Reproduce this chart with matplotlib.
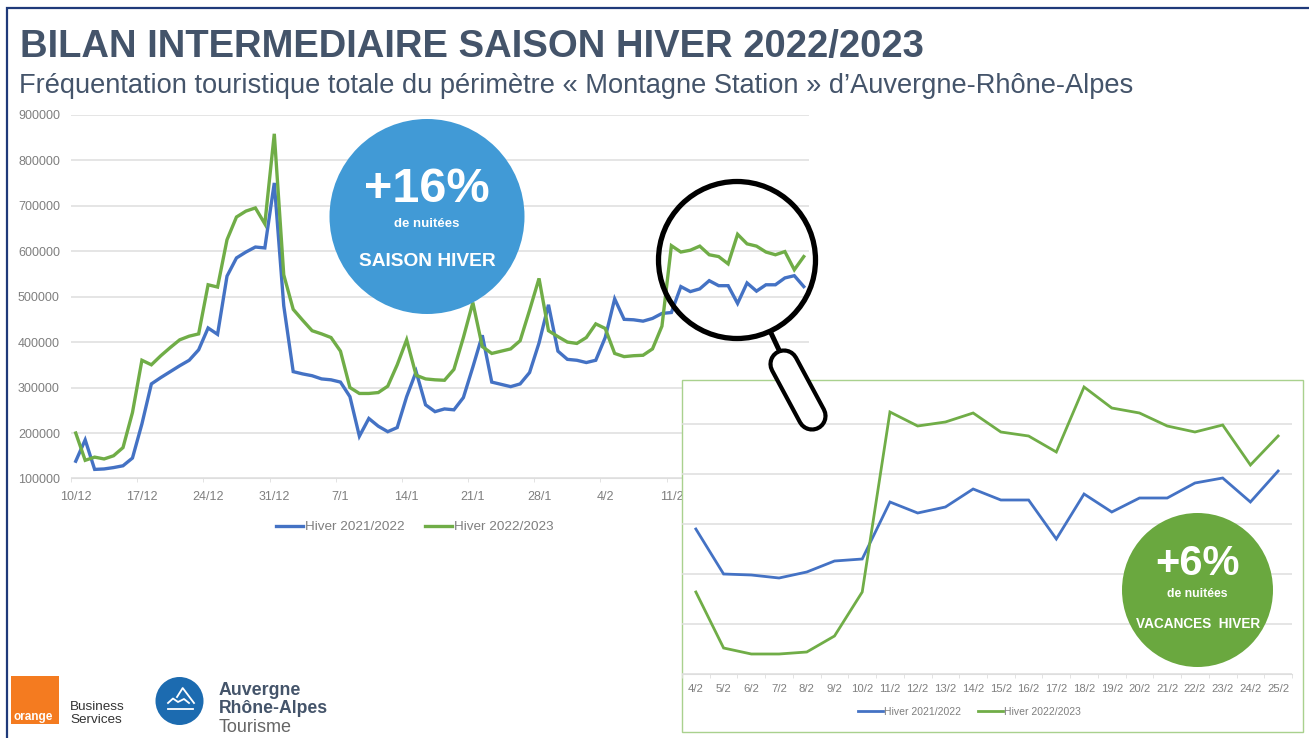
import matplotlib
matplotlib.use('Agg')
import matplotlib.pyplot as plt
from matplotlib.patches import Circle, Ellipse, Rectangle

plt.rcParams['font.family'] = ['Liberation Sans', 'DejaVu Sans']

W, H = 1309, 738

# main chart, one point per day from 10/12 to 25/2, in thousands of nights
week_labels = ['10/12', '17/12', '24/12', '31/12', '7/1', '14/1', '21/1', '28/1', '4/2', '11/2', '18/2', '25/2']
y_ticks = [100000, 200000, 300000, 400000, 500000, 600000, 700000, 800000, 900000]
hiver_2122 = [138, 185, 120, 121, 124, 128, 145, 220, 308, 322, 335, 348, 360, 383, 431, 417, 545, 585, 598, 609, 607, 750,
              480, 335, 330, 326, 319, 317, 312, 280, 193, 232, 215, 203, 212, 280, 335, 262, 247, 253, 251, 278, 345, 415,
              312, 307, 302, 308, 333, 398, 482, 380, 362, 360, 355, 360, 410,
              495, 450, 449, 446, 452, 463, 465, 522, 511, 517, 535, 524, 524, 485, 530, 512, 526, 526, 541, 546, 522]
hiver_2223 = [200, 140, 147, 143, 150, 168, 245, 360, 350, 370, 388, 405, 413, 418, 526, 521, 625, 675, 688, 695, 660, 858,
              548, 472, 448, 425, 418, 410, 380, 300, 287, 287, 289, 303, 350, 405, 327, 319, 317, 316, 340, 410, 487,
              390, 375, 380, 385, 403, 470, 540, 425, 412, 400, 397, 410, 440, 430,
              375, 368, 370, 371, 385, 435, 612, 598, 602, 611, 592, 588, 572, 637, 616, 611, 598, 592, 599, 559, 588]

# zoomed chart, vacances d'hiver
zoom_days = ['4/2', '5/2', '6/2', '7/2', '8/2', '9/2', '10/2', '11/2', '12/2', '13/2', '14/2',
             '15/2', '16/2', '17/2', '18/2', '19/2', '20/2', '21/2', '22/2', '23/2', '24/2', '25/2']
zoom_2122 = [495, 450, 449, 446, 452, 463, 465, 522, 511, 517, 535, 524, 524, 485, 530, 512, 526, 526, 541, 546, 522, 553]
zoom_2223 = [432, 376, 370, 370, 372, 388, 432, 612, 598, 602, 611, 592, 588, 572, 637, 616, 611, 598, 592, 599, 559, 588]
zoom_ticks = [350000, 400000, 450000, 500000, 550000, 600000]

BLUE = '#4472c4'
GREEN = '#70ad47'
GREY = '#7f7f7f'
SLATE = '#44546a'


def px_axes(fig, left, top, right, bottom, zorder):
    return fig.add_axes([left / W, 1 - bottom / H, (right - left) / W, (bottom - top) / H], zorder=zorder)


def draw_chart(ax, a, b, lw, label_size):
    x = range(len(a))
    ax.patch.set_alpha(0)
    ax.plot(x, [v * 1000 for v in a], color=BLUE, lw=lw, label='Hiver 2021/2022', solid_joinstyle='miter')
    ax.plot(x, [v * 1000 for v in b], color=GREEN, lw=lw, label='Hiver 2022/2023', solid_joinstyle='miter')
    ax.grid(axis='y', color='#dedede', lw=1.1)
    ax.set_axisbelow(True)
    for s in ['top', 'right', 'left']:
        ax.spines[s].set_visible(False)
    ax.spines['bottom'].set_color('#dedede')
    ax.tick_params(axis='y', length=0, colors=GREY, labelsize=label_size)
    ax.tick_params(axis='x', which='major', length=0, colors=GREY, labelsize=label_size)
    ax.tick_params(axis='x', which='minor', length=3, color='#dedede')
    ax.set_xlim(-0.5, len(a) - 0.5)


def chart_legend(ax, fig, cx, cy, size, handle, gap):
    ax.legend(loc='center', bbox_to_anchor=(cx / W, 1 - cy / H), bbox_transform=fig.transFigure, ncol=2,
              frameon=False, fontsize=size, labelcolor=GREY, handlelength=handle, handletextpad=0.15,
              columnspacing=gap, borderpad=0)


fig = plt.figure(figsize=(W / 100, H / 100), dpi=100, facecolor='white')

# main chart
ax = px_axes(fig, 71, 114.7, 808.5, 478.5, 1)
draw_chart(ax, hiver_2122, hiver_2223, 2.4, 9)
ax.set_ylim(100000, 900000)
ax.set_yticks(y_ticks)
ax.tick_params(axis='y', pad=8)
week_pos = range(0, len(hiver_2122), 7)
ax.set_xticks(list(week_pos))
ax.set_xticklabels(week_labels, clip_on=True)
ax.set_xticks([p - 0.5 for p in week_pos], minor=True)
ax.tick_params(axis='x', which='major', pad=9)
chart_legend(ax, fig, 415, 527, 9.7, 2.0, 1.5)

# white box behind the zoomed chart
box = px_axes(fig, 0, 0, W, H, 2)
box.set_xlim(0, W)
box.set_ylim(H, 0)
box.axis('off')
box.add_patch(Rectangle((682, 380), 621, 352, facecolor='white', edgecolor='#a9d18e', lw=1))

# zoomed chart
zoom = px_axes(fig, 682, 380, 1292, 674, 3)
draw_chart(zoom, zoom_2122, zoom_2223, 2.0, 8.2)
zoom.set_ylim(350000, 644000)
zoom.set_yticks(zoom_ticks)
zoom.set_yticklabels([])
zoom.set_xticks(range(len(zoom_days)))
zoom.set_xticklabels(zoom_days)
zoom.set_xticks([p - 0.5 for p in range(len(zoom_days) + 1)], minor=True)
zoom.tick_params(axis='x', which='major', pad=7)
chart_legend(zoom, fig, 969.5, 712, 7.5, 2.4, 1.6)

# everything on top, drawn in pixel coordinates
top = px_axes(fig, 0, 0, W, H, 4)
top.set_xlim(0, W)
top.set_ylim(H, 0)
top.axis('off')

top.plot([7, 7, W], [H, 8, 8], color='#1f3a7a', lw=1.6, solid_joinstyle='miter')
top.text(20, 47.5, 'BILAN INTERMEDIAIRE SAISON HIVER 2022/2023', fontsize=27.5, fontweight='bold',
         color=SLATE, ha='left', va='center')
top.text(19, 86, 'Fréquentation touristique totale du périmètre « Montagne Station » d’Auvergne-Rhône-Alpes',
         fontsize=19.6, color=SLATE, ha='left', va='center')

# blue bubble
top.add_patch(Circle((427, 216.5), 97.5, facecolor='#419ad6', edgecolor='none'))
top.text(427, 189, '+16%', fontsize=35, fontweight='bold', color='white', ha='center', va='center')
top.text(427, 224, 'de nuitées', fontsize=9.5, fontweight='bold', color='white', ha='center', va='center')
top.text(427, 262, 'SAISON HIVER', fontsize=13.8, fontweight='bold', color='white', ha='center', va='center')

# green bubble
top.add_patch(Ellipse((1197.5, 590), 151, 154, facecolor='#6aa83f', edgecolor='none'))
top.text(1197.5, 564, '+6%', fontsize=30, fontweight='bold', color='white', ha='center', va='center')
top.text(1197.5, 594, 'de nuitées', fontsize=8.8, fontweight='bold', color='white', ha='center', va='center')
top.text(1198, 623.5, 'VACANCES  HIVER', fontsize=9.8, fontweight='bold', color='white', ha='center', va='center')

# magnifying glass
top.add_patch(Circle((737, 260), 78.5, facecolor='none', edgecolor='black', lw=3.8))
top.plot([771, 779], [333, 350], color='black', lw=3.6, solid_capstyle='butt')
top.plot([784, 812], [364, 416], color='black', lw=22.5, solid_capstyle='round')
top.plot([784, 812], [364, 416], color='white', lw=16.5, solid_capstyle='round')

# logos
top.add_patch(Rectangle((11, 676), 48, 48, facecolor='#f47b20', edgecolor='none'))
top.text(14, 717, 'orange', fontsize=8.5, fontweight='bold', color='white', ha='left', va='center')
top.text(70, 707.5, 'Business', fontsize=9.7, color='#333333', ha='left', va='center')
top.text(70, 720, 'Services', fontsize=9.7, color='#333333', ha='left', va='center')
top.add_patch(Circle((179.5, 701), 24, facecolor='#1c6bb0', edgecolor='none'))
top.plot([177, 182.7, 194], [697, 688, 703], color='white', lw=1.3)
top.plot([168, 173, 178, 184, 189], [703, 698.5, 702, 699, 703], color='white', lw=1.3)
top.plot([168, 193], [709, 709], color='white', lw=1.3)
top.text(219, 690.5, 'Auvergne', fontsize=12.8, fontweight='bold', color=SLATE, ha='left', va='center')
top.text(219, 708.5, 'Rhône-Alpes', fontsize=12.7, fontweight='bold', color=SLATE, ha='left', va='center')
top.text(219, 727.5, 'Tourisme', fontsize=13, color='#666666', ha='left', va='center')

fig.savefig('out.png', dpi=100)
